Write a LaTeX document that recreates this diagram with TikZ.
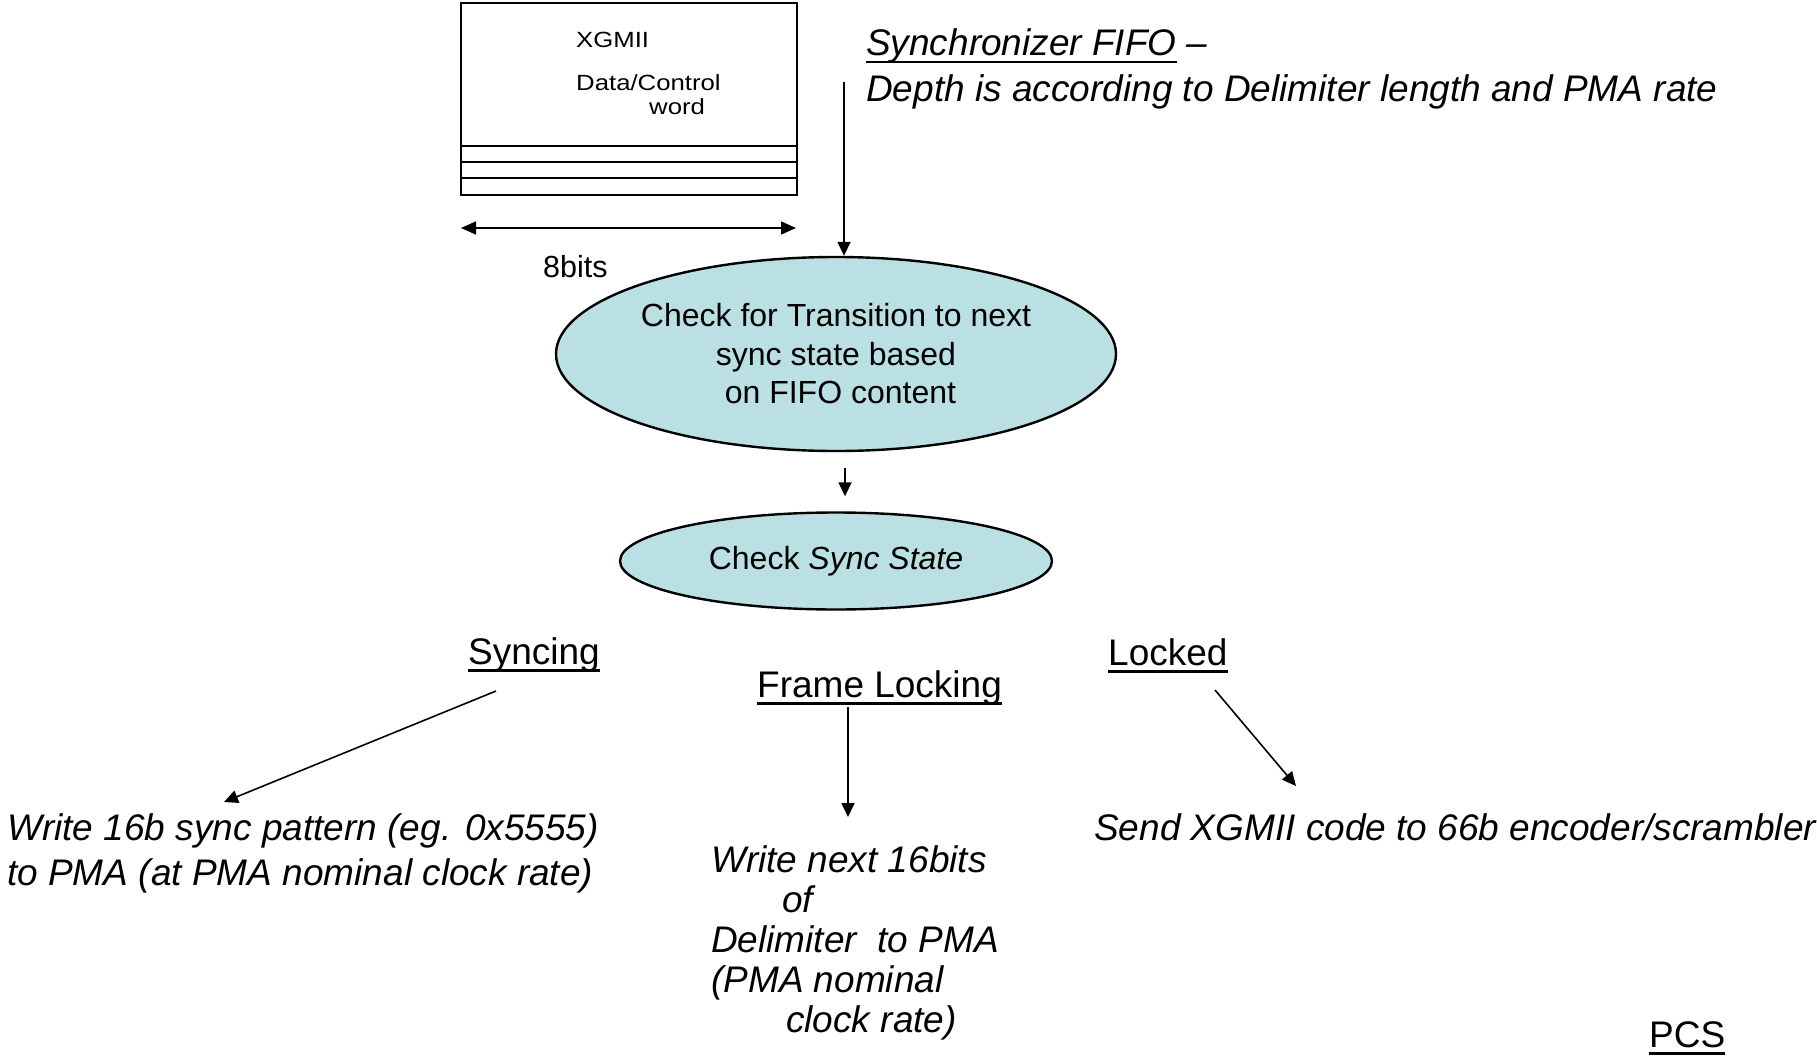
\documentclass[tikz,border=0pt]{standalone}
\usepackage{fontspec}
\usepackage{graphicx}
\setmainfont{Liberation Sans}
\usetikzlibrary{arrows.meta,shapes.geometric}
\definecolor{tealfill}{RGB}{186,224,227}
\newcommand\myul[1]{\setbox0\hbox{#1}\rlap{\rule[-7.5pt]{\wd0}{2.5pt}}\box0\relax}
\newcommand\hsx[1]{\scalebox{1.17}[1]{#1}}
\begin{document}
\begin{tikzpicture}[x=1pt,y=-1pt,
  arr/.style={-{Triangle[length=14pt,width=13pt]}, line width=1.6pt},
  darr/.style={{Triangle[length=15pt,width=13pt]}-{Triangle[length=15pt,width=13pt]}, line width=1.6pt},
  txt/.style={inner sep=0pt, anchor=base west, align=left, font=\fontsize{37}{40}\selectfont\itshape},
  lbl/.style={inner sep=0pt, anchor=base west, font=\fontsize{37}{44}\selectfont},
  small/.style={inner sep=0pt, anchor=base west, align=left, font=\fontsize{22}{23.5}\selectfont},
  state/.style={ellipse, draw, line width=2.4pt, fill=tealfill, inner sep=0pt, font=\fontsize{32}{38.5}\selectfont, align=center},
  box/.style={draw, line width=1.6pt}
]
\useasboundingbox (0,0) rectangle (1817,1062);

% FIFO box
\node[box, minimum width=336pt, minimum height=192pt, inner sep=0pt] (fifo) at (629,99) {};
\draw[line width=1.6pt] (fifo.west |- 0,146) -- (fifo.east |- 0,146);
\draw[line width=1.6pt] (fifo.west |- 0,162) -- (fifo.east |- 0,162);
\draw[line width=1.6pt] (fifo.west |- 0,178) -- (fifo.east |- 0,178);
\node[small] (xg) at (576,48) {\hsx{XGMII}};
\node[small] (dc) at (576,114) {\hsx{Data/Control}\\\hspace*{73pt}\hsx{word}};

% width dimension
\coordinate (dl) at (461,228);
\coordinate (dr) at (796,228);
\draw[darr] (dl) -- (dr);
\node[inner sep=0pt, anchor=base west, font=\fontsize{30.5}{36}\selectfont] (bits) at (543,277) {8bits};

% synchronizer FIFO note
\node[txt, font=\fontsize{37}{46}\selectfont\itshape] (sf) at (866,102) {\myul{Synchronizer FIFO} \textendash\\Depth is according to Delimiter length and PMA rate};
\coordinate (sftop) at (844,82);

% states
\node[state, minimum width=560pt, minimum height=194pt] (e1) at (836,354)
  {Check for Transition to next\\sync state based\\\ on FIFO content};
\node[state, minimum width=432pt, minimum height=97pt] (e2) at (836,561)
  {Check \textit{Sync State}};

\draw[arr] (sftop) -- (sftop |- e1.north);
\draw[arr] ([xshift=9pt,yshift=-16pt]e1.south) -- ([xshift=9pt,yshift=15pt]e2.north);

% branch labels
\node[lbl] (sync) at (468,664) {\myul{Syncing}};
\node[lbl] (fl) at (757,697) {\myul{Frame Locking}};
\node[lbl] (lk) at (1108,665) {\myul{Locked}};

% outcomes
\node[txt, font=\fontsize{37}{45}\selectfont\itshape] (wr) at (7,885)
  {Write 16b sync pattern (eg. 0x5555)\\to PMA (at PMA nominal clock rate)};
\node[txt] (fd) at (711,1032)
  {Write next 16bits\\\hspace*{71pt}of\\Delimiter\ \ to PMA\\(PMA nominal\\\hspace*{75pt}clock rate)};
\node[txt] (sx) at (1094,840) {Send XGMII code to 66b encoder/scrambler};

\coordinate (s1) at (496,691);
\coordinate (s2) at (224,802);
\coordinate (f1) at (848,707);
\coordinate (f2) at (848,817);
\coordinate (l1) at (1215,690);
\coordinate (l2) at (1296,786);
\draw[arr] (s1) -- (s2);
\draw[arr] (f1) -- (f2);
\draw[arr] (l1) -- (l2);

\node[lbl] (pcs) at (1649,1047) {\myul{PCS}};
\end{tikzpicture}
\end{document}
